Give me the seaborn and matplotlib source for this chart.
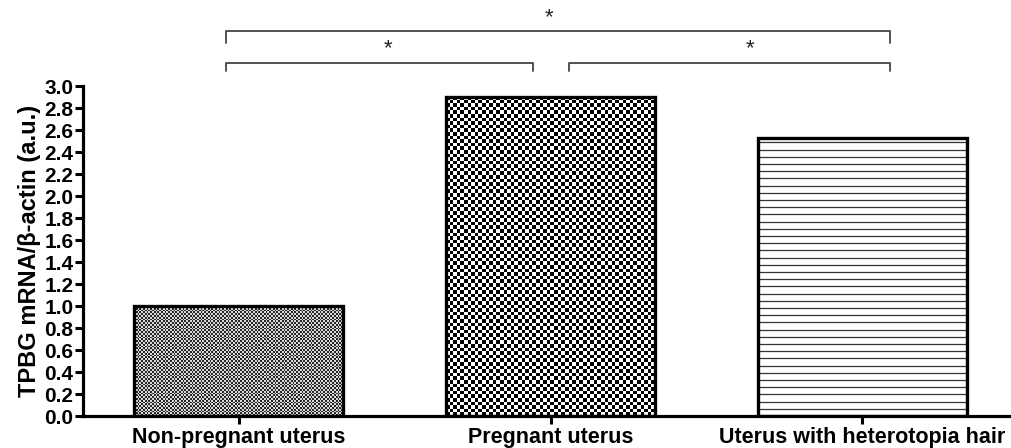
import numpy as np
import pandas as pd
import matplotlib
matplotlib.use("Agg")
import matplotlib.pyplot as plt
import seaborn as sns

# values
groups = ["Non-pregnant uterus", "Pregnant uterus", "Uterus with heterotopia hair"]
expression = [1.00, 2.90, 2.53]
fills = ["fine_checker", "coarse_checker", "stripes"]
y_ticks = [0.0, 0.2, 0.4, 0.6, 0.8, 1.0, 1.2, 1.4, 1.6, 1.8, 2.0,
           2.2, 2.4, 2.6, 2.8, 3.0]

# significance brackets: (left, right, height, star x, tick drop)
brackets = [(-0.04, 2.09, 3.50, 0.995, 0.11),
            (-0.04, 0.945, 3.21, 0.478, 0.07),
            (1.06, 2.09, 3.21, 1.64, 0.07)]

sns.set_theme(style="ticks")
plt.rcParams["font.family"] = ["Liberation Sans", "DejaVu Sans"]

df = pd.DataFrame({"group": groups, "value": expression})

fig = plt.figure(figsize=(10.11, 4.48), dpi=100)
ax = fig.add_axes([83 / 1011, 32 / 448, 935 / 1011, 330 / 448])

sns.barplot(data=df, x="group", y="value", ax=ax, width=0.67,
            errorbar=None, color="white")
for bar in ax.patches:
    bar.set_facecolor("none")
    bar.set_edgecolor("black")
    bar.set_linewidth(2.4)
    bar.set_zorder(3)

ax.set_xlim(-0.5, 2.5)
ax.set_ylim(0, 3.0)

# fill patterns inside each bar
fig.canvas.draw()
for bar, kind in zip(ax.patches, fills):
    x0, y0 = bar.get_x(), bar.get_y()
    w, h = bar.get_width(), bar.get_height()
    (px0, py0), (px1, py1) = ax.transData.transform([(x0, y0), (x0 + w, y0 + h)])
    wpx, hpx = px1 - px0, py1 - py0
    if kind == "stripes":
        step = 7.2 * h / hpx
        ys = np.arange(y0 + step, y0 + h, step)
        ax.hlines(ys, x0, x0 + w, color="#333333", lw=0.9, zorder=2)
        continue
    cell = 1.8 if kind == "fine_checker" else 3.6
    nx, ny = int(round(wpx / cell)), int(round(hpx / cell))
    chk = np.add.outer(np.arange(ny), np.arange(nx)) % 2
    if kind == "fine_checker":
        pat = np.where(chk == 0, 0.15, 0.85)
    else:
        pat = np.where(chk == 0, 0.0, 1.0)
    ax.imshow(pat, cmap="gray", vmin=0, vmax=1, extent=(x0, x0 + w, y0, y0 + h),
              aspect="auto", interpolation="nearest", zorder=2)

ax.set_xlim(-0.5, 2.5)
ax.set_ylim(0, 3.0)

sns.despine(ax=ax)
for side in ["left", "bottom"]:
    ax.spines[side].set_linewidth(2.3)
    ax.spines[side].set_color("black")

ax.set_yticks(y_ticks)
ax.set_yticklabels([f"{t:.1f}" for t in y_ticks])
ax.tick_params(axis="y", direction="out", length=6, width=2.2, color="black",
               labelsize=15, pad=1, labelcolor="black")
ax.tick_params(axis="x", direction="out", length=6, width=2.2, color="black",
               labelsize=15.5, pad=2, labelcolor="black")
for lab in ax.get_xticklabels() + ax.get_yticklabels():
    lab.set_fontweight("bold")

ax.set_xlabel("")
ax.set_ylabel("TPBG mRNA/β-actin (a.u.)", fontsize=17, fontweight="bold",
              color="black", labelpad=2)

for left, right, height, star_x, drop in brackets:
    ax.plot([left, left, right, right],
            [height - drop, height, height, height - drop],
            color="#444444", lw=1.3, clip_on=False, zorder=4)
    ax.text(star_x, height + 0.03, "*", ha="center", va="bottom",
            fontsize=16, color="#222222")

fig.savefig("out.png", dpi=100)
